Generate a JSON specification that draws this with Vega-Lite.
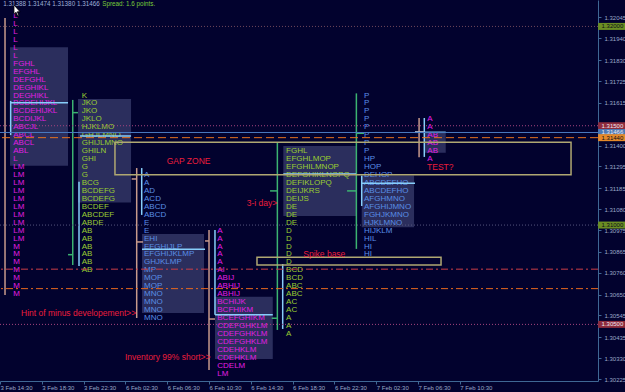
{
"$schema":"https://vega.github.io/schema/vega-lite/v6.json",
"width":598,"height":381,
"autosize":{"type":"none"},
"padding":{"left":0,"top":0,"right":27,"bottom":11},
"background":"#02022e",
"config":{"view":{"stroke":null}},
"resolve":{"axis":{"x":"independent","y":"independent"}},
"datasets":{
"va":[
{"t":0.96,"t2":6.51,"p":1.31895,"p2":1.31299},
{"t":7.46,"t2":12.54,"p":1.31635,"p2":1.31113},
{"t":13.59,"t2":19.52,"p":1.30955,"p2":1.30557},
{"t":20.57,"t2":26.10,"p":1.30639,"p2":1.30326},
{"t":27.11,"t2":34.07,"p":1.31398,"p2":1.31046},
{"t":34.61,"t2":39.62,"p":1.31249,"p2":1.30989},
{"t":40.57,"t2":42.65,"p":1.31467,"p2":1.31364}
],
"vl":[
{"t":0.48,"p":1.32042,"p2":1.30648,"c":"tan"},
{"t":1.02,"p":1.31625,"p2":1.31453,"c":"cyan"},
{"t":6.96,"p":1.31630,"p2":1.30799,"c":"grn"},
{"t":7.56,"p":1.31218,"p2":1.30794,"c":"cyan"},
{"t":13.08,"p":1.31287,"p2":1.30532,"c":"tan"},
{"t":13.56,"p":1.31287,"p2":1.31051,"c":"cyan"},
{"t":20.0,"p":1.30975,"p2":1.30270,"c":"tan"},
{"t":20.57,"p":1.30975,"p2":1.30549,"c":"cyan"},
{"t":26.54,"p":1.31413,"p2":1.30472,"c":"grn"},
{"t":27.05,"p":1.30804,"p2":1.30477,"c":"cyan"},
{"t":34.1,"p":1.31663,"p2":1.30880,"c":"grn"},
{"t":34.61,"p":1.31249,"p2":1.31096,"c":"cyan"},
{"t":40.1,"p":1.31539,"p2":1.31341,"c":"tan"},
{"t":40.6,"p":1.31539,"p2":1.31343,"c":"cyan"}
],
"tk":[
{"t":6.99,"t2":7.46,"p":1.31566,"c":"grn"},
{"t":6.51,"t2":6.99,"p":1.30851,"c":"grn"},
{"t":12.6,"t2":13.08,"p":1.31232,"c":"tan"},
{"t":13.08,"t2":13.68,"p":1.30915,"c":"tan"},
{"t":19.62,"t2":20.0,"p":1.30920,"c":"tan"},
{"t":20.0,"t2":20.57,"p":1.30527,"c":"tan"},
{"t":25.84,"t2":26.54,"p":1.31172,"c":"grn"},
{"t":26.0,"t2":26.5,"p":1.30531,"c":"grn"},
{"t":34.07,"t2":34.83,"p":1.31462,"c":"grn"},
{"t":33.21,"t2":34.07,"p":1.31172,"c":"grn"},
{"t":39.71,"t2":40.57,"p":1.31469,"c":"tan"}
],
"txt":[
{"t":1.27,"p":1.32052,"s":"L","c":"M"},
{"t":1.27,"p":1.32012,"s":"L","c":"M"},
{"t":1.27,"p":1.31972,"s":"L","c":"M"},
{"t":1.27,"p":1.31932,"s":"L","c":"M"},
{"t":1.27,"p":1.31892,"s":"L","c":"M"},
{"t":1.27,"p":1.31852,"s":"L","c":"M"},
{"t":1.27,"p":1.31812,"s":"FGHL","c":"M"},
{"t":1.27,"p":1.31772,"s":"EFGHL","c":"M"},
{"t":1.27,"p":1.31732,"s":"DEFGHL","c":"M"},
{"t":1.27,"p":1.31692,"s":"DEGHIKL","c":"M"},
{"t":1.27,"p":1.31652,"s":"DEGHIKL","c":"M"},
{"t":1.27,"p":1.31612,"s":"BCDEHIJKL","c":"M"},
{"t":1.27,"p":1.31572,"s":"BCDEHIJKL","c":"M"},
{"t":1.27,"p":1.31532,"s":"BCDIJKL","c":"M"},
{"t":1.27,"p":1.31492,"s":"ABCJL","c":"M"},
{"t":1.27,"p":1.31452,"s":"ABCL","c":"M"},
{"t":1.27,"p":1.31412,"s":"ABCL","c":"M"},
{"t":1.27,"p":1.31372,"s":"ABL","c":"M"},
{"t":1.27,"p":1.31332,"s":"L","c":"M"},
{"t":1.27,"p":1.31292,"s":"LM","c":"M"},
{"t":1.27,"p":1.31252,"s":"LM","c":"M"},
{"t":1.27,"p":1.31212,"s":"LM","c":"M"},
{"t":1.27,"p":1.31172,"s":"LM","c":"M"},
{"t":1.27,"p":1.31132,"s":"LM","c":"M"},
{"t":1.27,"p":1.31092,"s":"LM","c":"M"},
{"t":1.27,"p":1.31052,"s":"LM","c":"M"},
{"t":1.27,"p":1.31012,"s":"LM","c":"M"},
{"t":1.27,"p":1.30972,"s":"LM","c":"M"},
{"t":1.27,"p":1.30932,"s":"LM","c":"M"},
{"t":1.27,"p":1.30892,"s":"M","c":"M"},
{"t":1.27,"p":1.30852,"s":"M","c":"M"},
{"t":1.27,"p":1.30812,"s":"M","c":"M"},
{"t":1.27,"p":1.30772,"s":"M","c":"M"},
{"t":1.27,"p":1.30732,"s":"M","c":"M"},
{"t":1.27,"p":1.30692,"s":"M","c":"M"},
{"t":1.27,"p":1.30652,"s":"M","c":"M"},
{"t":7.82,"p":1.31652,"s":"K","c":"G"},
{"t":7.82,"p":1.31612,"s":"JKO","c":"G"},
{"t":7.82,"p":1.31572,"s":"JKO","c":"G"},
{"t":7.82,"p":1.31532,"s":"JKLO","c":"G"},
{"t":7.82,"p":1.31492,"s":"HJKLMO","c":"G"},
{"t":7.82,"p":1.31452,"s":"GHJLMNO","c":"G"},
{"t":7.82,"p":1.31412,"s":"GHIJLMNO","c":"G"},
{"t":7.82,"p":1.31372,"s":"GHILN","c":"G"},
{"t":7.82,"p":1.31332,"s":"GHI","c":"G"},
{"t":7.82,"p":1.31292,"s":"G","c":"G"},
{"t":7.82,"p":1.31252,"s":"G","c":"G"},
{"t":7.82,"p":1.31212,"s":"BCG","c":"G"},
{"t":7.82,"p":1.31172,"s":"BCDEFG","c":"G"},
{"t":7.82,"p":1.31132,"s":"BCDEFG","c":"G"},
{"t":7.82,"p":1.31092,"s":"BCDEF","c":"G"},
{"t":7.82,"p":1.31052,"s":"ABCDEF","c":"G"},
{"t":7.82,"p":1.31012,"s":"ABDE","c":"G"},
{"t":7.82,"p":1.30972,"s":"AB","c":"G"},
{"t":7.82,"p":1.30932,"s":"AB","c":"G"},
{"t":7.82,"p":1.30892,"s":"AB","c":"G"},
{"t":7.82,"p":1.30852,"s":"AB","c":"G"},
{"t":7.82,"p":1.30812,"s":"AB","c":"G"},
{"t":7.82,"p":1.30772,"s":"AB","c":"G"},
{"t":13.78,"p":1.31252,"s":"A","c":"B"},
{"t":13.78,"p":1.31212,"s":"A","c":"B"},
{"t":13.78,"p":1.31172,"s":"AD","c":"B"},
{"t":13.78,"p":1.31132,"s":"ACD","c":"B"},
{"t":13.78,"p":1.31092,"s":"ABCD","c":"B"},
{"t":13.78,"p":1.31052,"s":"ABCD","c":"B"},
{"t":13.78,"p":1.31012,"s":"E","c":"B"},
{"t":13.78,"p":1.30972,"s":"E","c":"B"},
{"t":13.78,"p":1.30932,"s":"EHI","c":"B"},
{"t":13.78,"p":1.30892,"s":"EFGHIJLP","c":"B"},
{"t":13.78,"p":1.30852,"s":"EFGHIJKLMP","c":"B"},
{"t":13.78,"p":1.30812,"s":"GHJKLMP","c":"B"},
{"t":13.78,"p":1.30772,"s":"MP","c":"B"},
{"t":13.78,"p":1.30732,"s":"MOP","c":"B"},
{"t":13.78,"p":1.30692,"s":"MOP","c":"B"},
{"t":13.78,"p":1.30652,"s":"MNO","c":"B"},
{"t":13.78,"p":1.30612,"s":"MNO","c":"B"},
{"t":13.78,"p":1.30572,"s":"MNO","c":"B"},
{"t":13.78,"p":1.30532,"s":"MNO","c":"B"},
{"t":20.79,"p":1.30972,"s":"A","c":"M"},
{"t":20.79,"p":1.30932,"s":"A","c":"M"},
{"t":20.79,"p":1.30892,"s":"A","c":"M"},
{"t":20.79,"p":1.30852,"s":"A","c":"M"},
{"t":20.79,"p":1.30812,"s":"A","c":"M"},
{"t":20.79,"p":1.30772,"s":"AI","c":"M"},
{"t":20.79,"p":1.30732,"s":"ABIJ","c":"M"},
{"t":20.79,"p":1.30692,"s":"ABHIJ","c":"M"},
{"t":20.79,"p":1.30652,"s":"ABHIJ","c":"M"},
{"t":20.79,"p":1.30612,"s":"BCHIJK","c":"M"},
{"t":20.79,"p":1.30572,"s":"BCFHIKM","c":"M"},
{"t":20.79,"p":1.30532,"s":"BCEFGHIKM","c":"M"},
{"t":20.79,"p":1.30492,"s":"CDEFGHKLM","c":"M"},
{"t":20.79,"p":1.30452,"s":"CDEFGHKLM","c":"M"},
{"t":20.79,"p":1.30412,"s":"CDEFGHKLM","c":"M"},
{"t":20.79,"p":1.30372,"s":"CDEHKLM","c":"M"},
{"t":20.79,"p":1.30332,"s":"CDEHKLM","c":"M"},
{"t":20.79,"p":1.30292,"s":"CDELM","c":"M"},
{"t":20.79,"p":1.30252,"s":"LM","c":"M"},
{"t":27.37,"p":1.31372,"s":"FGHL","c":"G"},
{"t":27.37,"p":1.31332,"s":"EFGHLMOP","c":"G"},
{"t":27.37,"p":1.31292,"s":"EFGHILMNOP","c":"G"},
{"t":27.37,"p":1.31252,"s":"DEFGHIKLNOPQ","c":"G"},
{"t":27.37,"p":1.31212,"s":"DEFIKLOPQ","c":"G"},
{"t":27.37,"p":1.31172,"s":"DEIJKRS","c":"G"},
{"t":27.37,"p":1.31132,"s":"DEIJS","c":"G"},
{"t":27.37,"p":1.31092,"s":"DE","c":"G"},
{"t":27.37,"p":1.31052,"s":"DE","c":"G"},
{"t":27.37,"p":1.31012,"s":"DE","c":"G"},
{"t":27.37,"p":1.30972,"s":"D","c":"G"},
{"t":27.37,"p":1.30932,"s":"D","c":"G"},
{"t":27.37,"p":1.30892,"s":"D","c":"G"},
{"t":27.37,"p":1.30852,"s":"D","c":"G"},
{"t":27.37,"p":1.30812,"s":"D","c":"G"},
{"t":27.37,"p":1.30772,"s":"BCD","c":"G"},
{"t":27.37,"p":1.30732,"s":"BCD","c":"G"},
{"t":27.37,"p":1.30692,"s":"ABC","c":"G"},
{"t":27.37,"p":1.30652,"s":"ABC","c":"G"},
{"t":27.37,"p":1.30612,"s":"AC","c":"G"},
{"t":27.37,"p":1.30572,"s":"AC","c":"G"},
{"t":27.37,"p":1.30532,"s":"A","c":"G"},
{"t":27.37,"p":1.30492,"s":"A","c":"G"},
{"t":27.37,"p":1.30452,"s":"A","c":"G"},
{"t":34.83,"p":1.31652,"s":"P","c":"B"},
{"t":34.83,"p":1.31612,"s":"P","c":"B"},
{"t":34.83,"p":1.31572,"s":"P","c":"B"},
{"t":34.83,"p":1.31532,"s":"P","c":"B"},
{"t":34.83,"p":1.31492,"s":"P","c":"B"},
{"t":34.83,"p":1.31452,"s":"P","c":"B"},
{"t":34.83,"p":1.31412,"s":"P","c":"B"},
{"t":34.83,"p":1.31372,"s":"P","c":"B"},
{"t":34.83,"p":1.31332,"s":"HP","c":"B"},
{"t":34.83,"p":1.31292,"s":"HOP","c":"B"},
{"t":34.83,"p":1.31252,"s":"DEHOP","c":"B"},
{"t":34.83,"p":1.31212,"s":"ABCDEFHO","c":"B"},
{"t":34.83,"p":1.31172,"s":"ABCDEFHO","c":"B"},
{"t":34.83,"p":1.31132,"s":"AFGHMNO","c":"B"},
{"t":34.83,"p":1.31092,"s":"AFGHIJMNO","c":"B"},
{"t":34.83,"p":1.31052,"s":"FGHJKMNO","c":"B"},
{"t":34.83,"p":1.31012,"s":"HJKLMNO","c":"B"},
{"t":34.83,"p":1.30972,"s":"HIJKLM","c":"B"},
{"t":34.83,"p":1.30932,"s":"HIL","c":"B"},
{"t":34.83,"p":1.30892,"s":"HI","c":"B"},
{"t":34.83,"p":1.30852,"s":"HI","c":"B"},
{"t":40.89,"p":1.31532,"s":"A","c":"M"},
{"t":40.89,"p":1.31492,"s":"A","c":"M"},
{"t":40.89,"p":1.31452,"s":"AB","c":"M"},
{"t":40.89,"p":1.31412,"s":"AB","c":"M"},
{"t":40.89,"p":1.31372,"s":"AB","c":"M"},
{"t":40.89,"p":1.31332,"s":"A","c":"M"}
],
"poc":[
{"t":0.96,"t2":6.51,"p":1.31616},
{"t":7.66,"t2":12.54,"p":1.31448},
{"t":13.59,"t2":19.62,"p":1.30878},
{"t":20.57,"t2":26.10,"p":1.30549},
{"t":27.11,"t2":34.07,"p":1.31257},
{"t":34.61,"t2":39.71,"p":1.31210},
{"t":39.71,"t2":42.65,"p":1.31467}
],
"hl":[
{"p":1.32,"c":"r1"},
{"p":1.315,"c":"r2"},
{"p":1.31,"c":"r3"},
{"p":1.305,"c":"r2"},
{"p":1.30778,"c":"dd1"},
{"p":1.3068,"c":"dd2"},
{"p":1.31466,"c":"bid"},
{"p":1.3144,"c":"ord"}
],
"bx":[
{"t":11.0,"t2":54.64,"p":1.31417,"p2":1.31253},
{"t":24.59,"t2":42.2,"p":1.30838,"p2":1.30799}
],
"notes":[
{"t":15.95,"p":1.31324,"s":"GAP ZONE"},
{"t":23.61,"p":1.31113,"s":"3-i day>"},
{"t":29.02,"p":1.30854,"s":"Spike base"},
{"t":40.86,"p":1.31291,"s":"TEST?"},
{"t":2.01,"p":1.30559,"s":"Hint of minus developement>>"},
{"t":11.96,"p":1.30337,"s":"Inventory 99% short>>"}
],
"hdr":[
{"t":0.32,"p":1.32113,"s":"1.31388 1.31474 1.31380 1.31466","c":"hd"},
{"t":9.79,"p":1.32113,"s":"Spread: 1.6 points.","c":"hs"}
],
"cur":[
{"t":1.68,"p":1.32078}
],
"tags":[
{"p":1.32,"s":"1.32000","c":"tg","tc":"dk"},
{"p":1.31,"s":"1.31000","c":"tg","tc":"dk"},
{"p":1.305,"s":"1.30500","c":"tr","tc":"lt"},
{"p":1.315,"s":"1.31500","c":"tr","tc":"lt"},
{"p":1.31466,"s":"1.31466","c":"tb","tc":"lt"},
{"p":1.3144,"s":"1.31440","c":"to","tc":"dk"}
]
},
"layer":[
{"data":{"name":"va"},
 "mark":{"type":"rect","fill":"#3c4070","opacity":0.72},
 "encoding":{
  "x":{"field":"t","type":"quantitative","scale":{"domain":[0,57.22],"nice":false,"zero":false},
   "axis":{"title":null,"grid":false,"values":[0,4,8,12,16,20,24,28,32,36,40,44],
    "labelExpr":"['3 Feb 14:30','3 Feb 18:30','3 Feb 22:30','6 Feb 02:30','6 Feb 06:30','6 Feb 10:30','6 Feb 14:30','6 Feb 18:30','6 Feb 22:30','7 Feb 02:30','7 Feb 06:30','7 Feb 10:30'][round(datum.value/4)]",
    "labelAlign":"left","labelDx":2,"labelBaseline":"top","labelPadding":0,"tickSize":3,
    "labelFont":"Liberation Sans","labelFontSize":6,"labelColor":"#9aa8c8","domainColor":"#3f6794","tickColor":"#3f6794","labelOverlap":false,"labelFlush":false}},
  "x2":{"field":"t2"},
  "y":{"field":"p","type":"quantitative","scale":{"domain":[1.30215,1.32133],"nice":false,"zero":false},
   "axis":{"title":null,"grid":false,"orient":"right","format":".5f",
    "values":[1.32045,1.3194,1.3183,1.31725,1.31615,1.314,1.31295,1.31185,1.3108,1.30975,1.30865,1.3076,1.3065,1.30545,1.30435,1.3033,1.30225],
    "tickSize":3,"labelPadding":3,"labelFont":"Liberation Sans","labelFontSize":6,"labelColor":"#9aa8c8","domainColor":"#3f6794","tickColor":"#3f6794","labelOverlap":false,"labelFlush":false}},
  "y2":{"field":"p2"}
 }},
{"data":{"name":"vl"},
 "mark":{"type":"rule","strokeWidth":1.5},
 "encoding":{
  "x":{"field":"t","type":"quantitative","scale":{"domain":[0,57.22],"nice":false,"zero":false},"axis":null},
  "y":{"field":"p","type":"quantitative","scale":{"domain":[1.30215,1.32133],"nice":false,"zero":false},"axis":null},
  "y2":{"field":"p2"},
  "color":{"field":"c","type":"nominal","legend":null,"scale":{"domain":["M","G","B","tan","grn","cyan","r1","r2","r3","bid","ord","dd1","dd2","tg","tr","tb","to","dk","lt","hd","hs"],"range":["#e21ee2","#9acd32","#5a8ee6","#c89a8c","#3cb371","#87cefa","#70485c","#a5457f","#56567c","#4a7ac0","#e8741e","#cc3f48","#e8681e","#6b8e23","#8e2c3e","#4a78b4","#e58a2a","#0a0a1a","#f0e8f0","#9fb0d8","#78cc3a"]}}
 }},
{"data":{"name":"tk"},
 "mark":{"type":"rule","strokeWidth":1.5},
 "encoding":{
  "x":{"field":"t","type":"quantitative","scale":{"domain":[0,57.22],"nice":false,"zero":false},"axis":null},
  "x2":{"field":"t2"},
  "y":{"field":"p","type":"quantitative","scale":{"domain":[1.30215,1.32133],"nice":false,"zero":false},"axis":null},
  "color":{"field":"c","type":"nominal","legend":null,"scale":{"domain":["M","G","B","tan","grn","cyan","r1","r2","r3","bid","ord","dd1","dd2","tg","tr","tb","to","dk","lt","hd","hs"],"range":["#e21ee2","#9acd32","#5a8ee6","#c89a8c","#3cb371","#87cefa","#70485c","#a5457f","#56567c","#4a7ac0","#e8741e","#cc3f48","#e8681e","#6b8e23","#8e2c3e","#4a78b4","#e58a2a","#0a0a1a","#f0e8f0","#9fb0d8","#78cc3a"]}}
 }},
{"data":{"name":"txt"},
 "mark":{"type":"text","align":"left","baseline":"middle","font":"Liberation Sans","fontSize":8},
 "encoding":{
  "x":{"field":"t","type":"quantitative","scale":{"domain":[0,57.22],"nice":false,"zero":false},"axis":null},
  "y":{"field":"p","type":"quantitative","scale":{"domain":[1.30215,1.32133],"nice":false,"zero":false},"axis":null},
  "text":{"field":"s"},
  "color":{"field":"c","type":"nominal","legend":null,"scale":{"domain":["M","G","B","tan","grn","cyan","r1","r2","r3","bid","ord","dd1","dd2","tg","tr","tb","to","dk","lt","hd","hs"],"range":["#e21ee2","#9acd32","#5a8ee6","#c89a8c","#3cb371","#87cefa","#70485c","#a5457f","#56567c","#4a7ac0","#e8741e","#cc3f48","#e8681e","#6b8e23","#8e2c3e","#4a78b4","#e58a2a","#0a0a1a","#f0e8f0","#9fb0d8","#78cc3a"]}}
 }},
{"data":{"name":"poc"},
 "mark":{"type":"rule","strokeWidth":1.5,"color":"#87cefa"},
 "encoding":{
  "x":{"field":"t","type":"quantitative","scale":{"domain":[0,57.22],"nice":false,"zero":false},"axis":null},
  "x2":{"field":"t2"},
  "y":{"field":"p","type":"quantitative","scale":{"domain":[1.30215,1.32133],"nice":false,"zero":false},"axis":null}
 }},
{"data":{"name":"hl"},
 "mark":{"type":"rule","strokeWidth":1},
 "encoding":{
  "y":{"field":"p","type":"quantitative","scale":{"domain":[1.30215,1.32133],"nice":false,"zero":false},"axis":null},
  "color":{"field":"c","type":"nominal","legend":null,"scale":{"domain":["M","G","B","tan","grn","cyan","r1","r2","r3","bid","ord","dd1","dd2","tg","tr","tb","to","dk","lt","hd","hs"],"range":["#e21ee2","#9acd32","#5a8ee6","#c89a8c","#3cb371","#87cefa","#70485c","#a5457f","#56567c","#4a7ac0","#e8741e","#cc3f48","#e8681e","#6b8e23","#8e2c3e","#4a78b4","#e58a2a","#0a0a1a","#f0e8f0","#9fb0d8","#78cc3a"]}},
  "strokeDash":{"field":"c","type":"nominal","legend":null,"scale":{"domain":["r1","r2","r3","bid","ord","dd1","dd2"],"range":[[1,2],[1,2],[1,2],[1,0],[8,4],[7,3,2,3],[7,3,2,3]]}}
 }},
{"data":{"name":"bx"},
 "mark":{"type":"rect","filled":false,"color":"#b0a872","strokeWidth":1.5},
 "encoding":{
  "x":{"field":"t","type":"quantitative","scale":{"domain":[0,57.22],"nice":false,"zero":false},"axis":null},
  "x2":{"field":"t2"},
  "y":{"field":"p","type":"quantitative","scale":{"domain":[1.30215,1.32133],"nice":false,"zero":false},"axis":null},
  "y2":{"field":"p2"}
 }},
{"data":{"name":"notes"},
 "mark":{"type":"text","align":"left","baseline":"middle","font":"Liberation Sans","fontSize":8.5,"color":"#ec1e3c"},
 "encoding":{
  "x":{"field":"t","type":"quantitative","scale":{"domain":[0,57.22],"nice":false,"zero":false},"axis":null},
  "y":{"field":"p","type":"quantitative","scale":{"domain":[1.30215,1.32133],"nice":false,"zero":false},"axis":null},
  "text":{"field":"s"}
 }},
{"data":{"name":"hdr"},
 "mark":{"type":"text","align":"left","baseline":"middle","font":"Liberation Sans","fontSize":6.3},
 "encoding":{
  "x":{"field":"t","type":"quantitative","scale":{"domain":[0,57.22],"nice":false,"zero":false},"axis":null},
  "y":{"field":"p","type":"quantitative","scale":{"domain":[1.30215,1.32133],"nice":false,"zero":false},"axis":null},
  "text":{"field":"s"},
  "color":{"field":"c","type":"nominal","legend":null,"scale":{"domain":["M","G","B","tan","grn","cyan","r1","r2","r3","bid","ord","dd1","dd2","tg","tr","tb","to","dk","lt","hd","hs"],"range":["#e21ee2","#9acd32","#5a8ee6","#c89a8c","#3cb371","#87cefa","#70485c","#a5457f","#56567c","#4a7ac0","#e8741e","#cc3f48","#e8681e","#6b8e23","#8e2c3e","#4a78b4","#e58a2a","#0a0a1a","#f0e8f0","#9fb0d8","#78cc3a"]}}
 }},
{"data":{"name":"cur"},
 "mark":{"type":"point","filled":true,"fill":"#ffffff","stroke":"#000000","strokeWidth":0.8,"opacity":1,"size":144,
  "shape":"M-0.6,-1 L-0.6,0.55 L-0.25,0.22 L0.02,0.85 L0.22,0.76 L-0.04,0.14 L0.42,0.14 Z"},
 "encoding":{
  "x":{"field":"t","type":"quantitative","scale":{"domain":[0,57.22],"nice":false,"zero":false},"axis":null},
  "y":{"field":"p","type":"quantitative","scale":{"domain":[1.30215,1.32133],"nice":false,"zero":false},"axis":null}
 }},
{"data":{"name":"tags"},
 "mark":{"type":"tick","orient":"horizontal","size":27,"thickness":7,"opacity":1},
 "encoding":{
  "x":{"datum":58.52,"type":"quantitative","scale":{"domain":[0,57.22],"nice":false,"zero":false},"axis":null},
  "y":{"field":"p","type":"quantitative","scale":{"domain":[1.30215,1.32133],"nice":false,"zero":false},"axis":null},
  "color":{"field":"c","type":"nominal","legend":null,"scale":{"domain":["M","G","B","tan","grn","cyan","r1","r2","r3","bid","ord","dd1","dd2","tg","tr","tb","to","dk","lt","hd","hs"],"range":["#e21ee2","#9acd32","#5a8ee6","#c89a8c","#3cb371","#87cefa","#70485c","#a5457f","#56567c","#4a7ac0","#e8741e","#cc3f48","#e8681e","#6b8e23","#8e2c3e","#4a78b4","#e58a2a","#0a0a1a","#f0e8f0","#9fb0d8","#78cc3a"]}}
 }},
{"data":{"name":"tags"},
 "mark":{"type":"text","align":"left","baseline":"middle","font":"Liberation Sans","fontSize":6},
 "encoding":{
  "x":{"datum":57.56,"type":"quantitative","scale":{"domain":[0,57.22],"nice":false,"zero":false},"axis":null},
  "y":{"field":"p","type":"quantitative","scale":{"domain":[1.30215,1.32133],"nice":false,"zero":false},"axis":null},
  "text":{"field":"s"},
  "color":{"field":"tc","type":"nominal","legend":null,"scale":{"domain":["M","G","B","tan","grn","cyan","r1","r2","r3","bid","ord","dd1","dd2","tg","tr","tb","to","dk","lt","hd","hs"],"range":["#e21ee2","#9acd32","#5a8ee6","#c89a8c","#3cb371","#87cefa","#70485c","#a5457f","#56567c","#4a7ac0","#e8741e","#cc3f48","#e8681e","#6b8e23","#8e2c3e","#4a78b4","#e58a2a","#0a0a1a","#f0e8f0","#9fb0d8","#78cc3a"]}}
 }}
]
}
